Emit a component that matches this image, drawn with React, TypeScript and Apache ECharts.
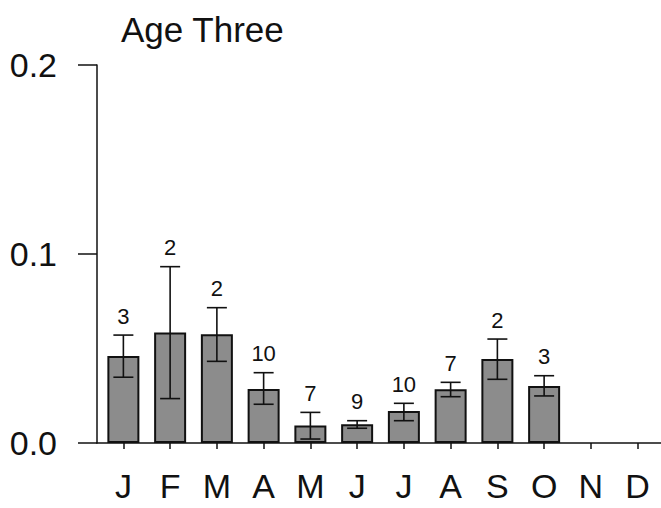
import React, { useEffect, useRef } from "react";
import * as echarts from "echarts";

const months = ["J", "F", "M", "A", "M", "J", "J", "A", "S", "O", "N", "D"];
const means = [0.046, 0.0584, 0.0575, 0.0286, 0.0092, 0.0099, 0.0169, 0.0284, 0.0444, 0.0302, null, null];
const errLow = [0.0348, 0.0235, 0.0432, 0.0205, 0.0021, 0.0078, 0.0118, 0.0245, 0.0337, 0.0249, null, null];
const errHigh = [0.0571, 0.0933, 0.0716, 0.0372, 0.0162, 0.0118, 0.021, 0.0321, 0.055, 0.0356, null, null];
const counts = ["3", "2", "2", "10", "7", "9", "10", "7", "2", "3", "", ""];
const yTicks = [0, 0.1, 0.2];
const titleText = "Age Three";

const FONT = '"Liberation Sans", Arial, Helvetica, sans-serif';
const INK = "#111";

export default function App() {
  const ref = useRef<HTMLDivElement>(null);
  useEffect(() => {
    if (!ref.current) return;
    const chart = echarts.init(ref.current, undefined, { renderer: "svg" });
    const errData = months
      .map((_, i) => (errLow[i] == null ? null : [i, errLow[i], errHigh[i], counts[i]]))
      .filter((d) => d !== null) as any[];
    chart.setOption({
      animation: false,
      backgroundColor: "#ffffff",
      title: {
        text: titleText,
        left: 116,
        top: 7,
        textStyle: { fontFamily: FONT, fontSize: 35, fontWeight: "normal", color: INK },
      },
      grid: [
        { left: 97, width: 564, top: 65, bottom: 65 },
        { left: 100, width: 564, top: 65, bottom: 65 },
      ],
      xAxis: [
        {
          gridIndex: 0,
          type: "category",
          data: months,
          axisLine: { show: true, lineStyle: { color: INK, width: 1.5 } },
          axisTick: { show: false },
          axisLabel: { show: false },
          splitLine: { show: false },
        },
        {
          gridIndex: 1,
          type: "category",
          data: months,
          offset: 3.5,
          axisLine: { show: false },
          axisTick: { show: true, alignWithLabel: true, length: 6, lineStyle: { color: INK, width: 1.5 } },
          axisLabel: { show: true, margin: 22, fontFamily: FONT, fontSize: 34, color: INK },
          splitLine: { show: false },
        },
      ],
      yAxis: [
        {
          gridIndex: 0,
          type: "value",
          min: yTicks[0],
          max: yTicks[yTicks.length - 1],
          interval: 0.1,
          axisLine: { show: true, lineStyle: { color: INK, width: 1.5 } },
          axisTick: { show: true, length: 19, lineStyle: { color: INK, width: 1.5 } },
          axisLabel: {
            show: true,
            margin: 40,
            fontFamily: FONT,
            fontSize: 34,
            color: INK,
            verticalAlign: "middle",
            padding: [0, 0, 4, 0],
            formatter: (v: number) => v.toFixed(1),
          },
          splitLine: { show: false },
        },
        {
          gridIndex: 1,
          type: "value",
          min: yTicks[0],
          max: yTicks[yTicks.length - 1],
          interval: 0.1,
          show: false,
        },
      ],
      series: [
        {
          type: "bar",
          xAxisIndex: 1,
          yAxisIndex: 1,
          data: means,
          barWidth: 32,
          itemStyle: { color: "#8c8c8c", borderColor: INK, borderWidth: 2 },
          z: 2,
        },
        {
          type: "custom",
          xAxisIndex: 1,
          yAxisIndex: 1,
          data: errData,
          encode: { x: 0, y: [1, 2] },
          z: 5,
          renderItem: (params: any, api: any) => {
            const i = api.value(0);
            const lo = api.coord([i, api.value(1)]);
            const hi = api.coord([i, api.value(2)]);
            const half = 10;
            const style = { stroke: INK, lineWidth: 1.6 };
            return {
              type: "group",
              children: [
                { type: "line", shape: { x1: hi[0], y1: hi[1], x2: lo[0], y2: lo[1] }, style },
                { type: "line", shape: { x1: hi[0] - half, y1: hi[1], x2: hi[0] + half, y2: hi[1] }, style },
                { type: "line", shape: { x1: lo[0] - half, y1: lo[1], x2: lo[0] + half, y2: lo[1] }, style },
                {
                  type: "text",
                  style: {
                    text: String(api.value(3)),
                    x: hi[0],
                    y: hi[1] - 8,
                    textAlign: "center",
                    textVerticalAlign: "bottom",
                    align: "center",
                    verticalAlign: "bottom",
                    fontFamily: FONT,
                    fontSize: 22,
                    fill: INK,
                  },
                },
              ],
            };
          },
        },
      ],
    });
    return () => chart.dispose();
  }, []);
  return (
    <div
      ref={ref}
      style={{ position: "absolute", left: 0, top: 0, width: 661, height: 508 }}
    />
  );
}
